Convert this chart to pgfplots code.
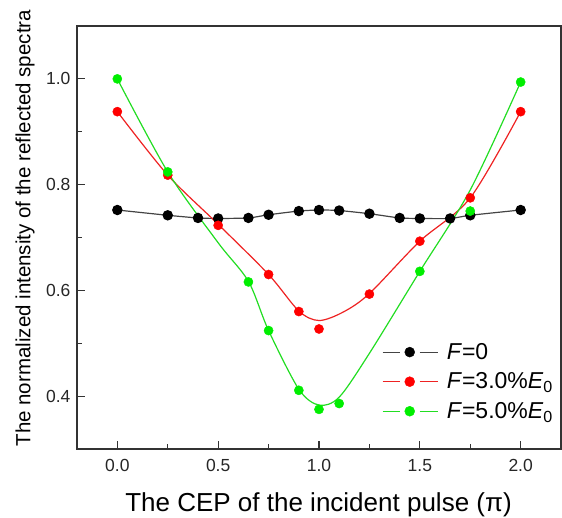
\documentclass[border=0pt]{standalone}
\usepackage{fontspec}
\setmainfont{Liberation Sans}
\usepackage{pgfplots}
\pgfplotsset{compat=1.18}
\definecolor{axgray}{HTML}{333333}
\definecolor{linegray}{HTML}{444444}
\definecolor{redline}{HTML}{EE2222}
\definecolor{redmark}{HTML}{FF0000}
\definecolor{greenline}{HTML}{22DD22}
\definecolor{greenmark}{HTML}{00EE00}
\begin{document}
\begin{tikzpicture}
\begin{axis}[
  scale only axis, width=484pt, height=423pt,
  xmin=-0.2, xmax=2.2, ymin=0.3, ymax=1.1,
  xtick={0,0.5,1.0,1.5,2.0}, ytick={0.4,0.6,0.8,1.0},
  minor xtick={0.25,0.75,1.25,1.75}, minor ytick={0.5,0.7,0.9},
  tick align=inside, xtick pos=bottom, ytick pos=left,
  major tick length=8pt, minor tick length=5pt,
  axis line style={line width=1.3pt, draw=axgray},
  every tick/.style={line width=1.1pt, draw=axgray},
  /pgf/number format/assume math mode=true,
  /pgf/number format/fixed, /pgf/number format/fixed zerofill, /pgf/number format/precision=1,
  tick label style={font=\fontsize{17.5}{20}\selectfont, text=black!85},
  yticklabel style={xshift=-3pt},
  xticklabel style={yshift=-7pt},
  xlabel={The CEP of the incident pulse (π)},
  ylabel={The normalized intensity of the reflected spectra},
  xlabel style={font=\fontsize{26}{30}\selectfont, at={(axis description cs:0.499,-0.132)}, anchor=center},
  ylabel style={font=\fontsize{20.5}{24}\selectfont, at={(axis description cs:-0.1074,0.522)}, anchor=center},
  legend style={draw=none, fill=none, at={(axis description cs:0.630,0.255)}, anchor=north west,
    font=\fontsize{23}{27}\selectfont, row sep=8pt, inner sep=0pt},
  legend cell align=left,
]
% F=0
\addplot[forget plot, color=linegray, line width=1.2pt, smooth, tension=0.4,
  mark=*, mark size=4.6pt, mark options={fill=black, draw=black}] table {
x y
0.00 0.752
0.25 0.742
0.40 0.737
0.50 0.736
0.65 0.737
0.75 0.743
0.90 0.750
1.00 0.752
1.10 0.751
1.25 0.745
1.40 0.737
1.50 0.736
1.65 0.736
1.75 0.742
2.00 0.752
};
% F=3.0% fitted curve
\addplot[forget plot, color=redline, line width=1.2pt, smooth, tension=0.5, no marks] table {
x y
0.00 0.938
0.25 0.818
0.50 0.725
0.75 0.630
0.90 0.561
1.00 0.543
1.12 0.559
1.25 0.594
1.50 0.693
1.75 0.775
2.00 0.938
};
\addplot[forget plot, only marks, mark=*, mark size=4.6pt, mark options={fill=redmark, draw=redmark}] table {
x y
0.00 0.938
0.25 0.818
0.50 0.723
0.75 0.630
0.90 0.560
1.00 0.527
1.25 0.593
1.50 0.693
1.75 0.775
2.00 0.938
};
% F=5.0% fitted curve
\addplot[forget plot, color=greenline, line width=1.2pt, smooth, tension=0.5, no marks] table {
x y
0.00 1.000
0.25 0.824
0.50 0.690
0.65 0.617
0.75 0.524
0.90 0.413
1.00 0.383
1.10 0.398
1.25 0.481
1.50 0.636
1.75 0.790
2.00 0.994
};
\addplot[forget plot, only marks, mark=*, mark size=4.6pt, mark options={fill=greenmark, draw=greenmark}] table {
x y
0.00 1.000
0.25 0.824
0.65 0.616
0.75 0.524
0.90 0.411
1.00 0.375
1.10 0.386
1.50 0.636
1.75 0.750
2.00 0.994
};
\addlegendimage{legend image code/.code={
  \draw[linegray, line width=1.2pt] (0pt,0pt) -- (17pt,0pt) (37pt,0pt) -- (55pt,0pt);
  \fill[black] (27pt,0pt) circle (5pt);
  \path (62pt,0pt);}}
\addlegendentry{\textit{F}=0}
\addlegendimage{legend image code/.code={
  \draw[redline, line width=1.2pt] (0pt,0pt) -- (17pt,0pt) (37pt,0pt) -- (55pt,0pt);
  \fill[redmark] (27pt,0pt) circle (5pt);
  \path (62pt,0pt);}}
\addlegendentry{\textit{F}=3.0\%\textit{E}\textsubscript{0}}
\addlegendimage{legend image code/.code={
  \draw[greenline, line width=1.2pt] (0pt,0pt) -- (17pt,0pt) (37pt,0pt) -- (55pt,0pt);
  \fill[greenmark] (27pt,0pt) circle (5pt);
  \path (62pt,0pt);}}
\addlegendentry{\textit{F}=5.0\%\textit{E}\textsubscript{0}}
\end{axis}
\pgfresetboundingbox
\path (-77pt,-68pt) rectangle (485pt,449pt);
\end{tikzpicture}
\end{document}
